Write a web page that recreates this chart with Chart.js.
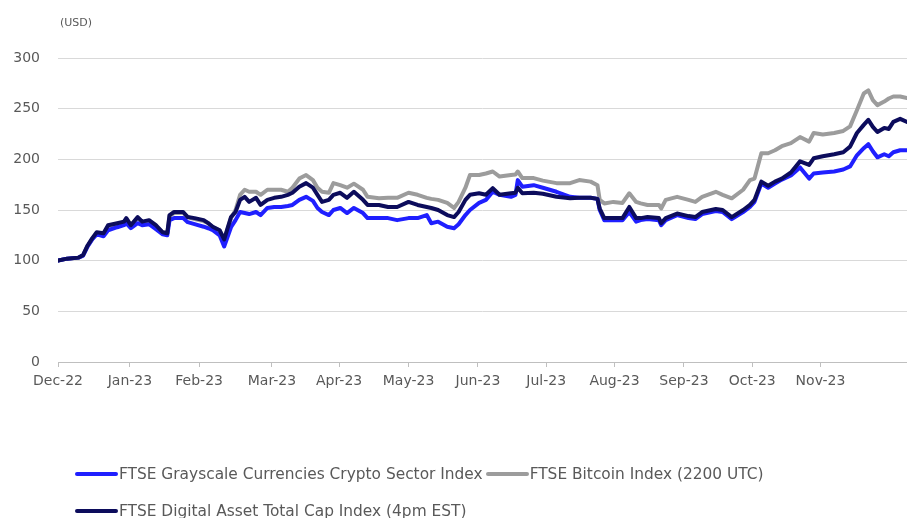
<!DOCTYPE html>
<html>
<head>
<meta charset="utf-8">
<script src="https://cdn.jsdelivr.net/npm/chart.js@4.4.1/dist/chart.umd.min.js"></script>
<style>
  body { margin: 0; background: #fff; }
  #wrap { position: relative; width: 907px; height: 518px; overflow: hidden; font-family: "DejaVu Sans", sans-serif; color: #595959; }
  #unit { position: absolute; left: 60px; top: 16px; font-size: 11px; }
  #legend { position: absolute; left: 75px; top: 455px; font-size: 15.4px; }
  .row { display: flex; align-items: center; height: 37px; white-space: nowrap; }
  .sw { display: inline-block; width: 43px; height: 4px; border-radius: 2px; margin-right: 1px; }
  .item { display: flex; align-items: center; margin-right: 3px; }
</style>
</head>
<body>
<div id="wrap">
  <canvas id="myIndexChart" width="907" height="518"></canvas>
  <div id="unit">(USD)</div>
  <div id="legend"></div>
</div>
<script>
// days since the Dec-22 tick
const days = [0, 4, 9, 11, 13, 15, 17, 20, 22, 26, 29, 30, 32, 35, 37, 40, 43, 46, 48, 49,
  51, 55, 57, 60, 64, 66, 68, 71, 73, 76, 78, 80, 82, 84, 87, 89, 92, 95, 98, 101,
  103, 106, 109, 112, 114, 116, 119, 121, 124, 127, 130, 134, 136, 141, 145, 149, 154, 158, 162, 164,
  167, 171, 174, 176, 179, 181, 185, 188, 191, 194, 199, 201, 202, 204, 209, 213, 219, 225, 229, 234,
  237, 238, 240, 244, 248, 251, 254, 256, 259, 264, 265, 267, 272, 277, 280, 283, 289, 292, 296, 301,
  304, 306, 309, 312, 315, 318, 322, 326, 330, 332, 336, 341, 345, 348, 351, 354, 356, 358, 360, 363,
  365, 367, 370, 373];

// FTSE Digital Asset Total Cap Index (4pm EST)
const totalCap = [100, 102, 103, 105.5, 115, 122, 128, 127, 135, 137, 138.5, 142, 135, 143, 138.5, 140, 135, 128, 127, 145,
  148, 148, 143, 142, 140, 137, 133.5, 130, 121, 143, 148, 160, 163, 158, 162, 155, 160, 162, 163, 165,
  167, 173, 176.5, 172, 165, 158, 160, 165, 167, 162, 168, 160, 155, 155, 153, 153, 158, 155, 153, 152,
  150, 145, 143, 148, 160, 165, 166.5, 165, 171.5, 165, 166.5, 167, 172, 166.5, 167, 166, 163, 161.5, 162, 162,
  161, 151.5, 142, 142, 142, 153, 142, 142, 143, 142, 137, 142, 146.5, 144, 143, 148, 151, 150, 143, 150,
  155, 160, 178, 174, 178, 181, 187, 198, 194.5, 201, 203, 205, 207, 212.5, 226, 234, 239, 232, 227, 231,
  230, 237, 240, 237];

// FTSE Grayscale Currencies Crypto Sector Index
const grayscale = [100, 102, 103, 105, 114, 121, 126, 124, 130, 133, 135, 137, 132, 137, 135, 136, 131, 126, 125, 140,
  142, 142, 138, 136, 133.5, 132, 130, 125, 114, 133, 140, 148, 147, 146, 148, 145, 152, 153, 153, 154,
  155, 160, 163, 159, 152, 148, 145, 150, 152, 147, 152, 147, 142, 142, 142, 140, 142, 142, 145, 137,
  138.5, 133.5, 132, 136, 145, 150, 157, 160, 168, 165, 163, 165, 179.5, 173, 174.5, 172, 168, 163, 162, 162,
  161, 150, 140, 140, 140, 148, 138.5, 140, 141, 140, 135, 140, 145, 142, 141, 146, 149, 148, 141, 148,
  153, 158, 176, 172, 176, 180, 184, 192, 181, 186, 187, 188, 190, 193, 204, 211, 215, 208, 202, 205,
  203, 207, 209, 209];

// FTSE Bitcoin Index (2200 UTC)
const bitcoin = [100, 102, 103, 105, 114, 121, 127, 126, 134, 136, 138, 141, 135, 142, 138, 139, 134, 128, 127, 144,
  147, 147, 143, 141, 139, 137, 133, 130, 120, 142, 150, 165, 170, 168, 168, 165, 170, 170, 170, 168,
  172, 181, 184.5, 179.5, 172, 168, 167, 176.5, 174.5, 172, 176, 170, 163, 161.5, 162, 162, 167, 165, 162, 161,
  160, 157, 152, 158, 172, 184.5, 184.5, 186, 188, 183, 184.5, 185, 188, 181.5, 181.5, 179, 176.5, 176.5, 179.5, 178,
  174.5, 160, 156.5, 158, 157, 166.5, 158, 156.5, 155, 155, 151.5, 160, 163, 160, 158, 163, 168, 165, 161.5, 170,
  179.5, 181, 206, 206, 209, 213, 216, 222, 217.5, 226, 224.5, 226, 228, 232.5, 248.5, 265, 268, 258.5, 253.5, 257,
  260, 262, 262, 260.5];

const monthTicks = [0, 31.6, 62, 94, 123.5, 154, 184.5, 214.5, 244.5, 275, 305, 335];
const monthLabels = ['Dec-22', 'Jan-23', 'Feb-23', 'Mar-23', 'Apr-23', 'May-23', 'Jun-23',
  'Jul-23', 'Aug-23', 'Sep-23', 'Oct-23', 'Nov-23'];

const seriesNames = ['FTSE Grayscale Currencies Crypto Sector Index', 'FTSE Bitcoin Index (2200 UTC)',
  'FTSE Digital Asset Total Cap Index (4pm EST)'];
const seriesColors = ['#1f1fff', '#9c9c9c', '#0c0c5c'];

function points(vals) {
  return days.map((d, i) => ({ x: d, y: vals[i] }));
}

const tickFont = { family: 'DejaVu Sans', size: 14 };

var ctx = document.getElementById('myIndexChart');
var myIndexChart = new Chart(ctx, {
  type: 'line',
  data: {
    datasets: [
      // navy drawn on top, gray underneath
      { label: seriesNames[2], data: points(totalCap), borderColor: seriesColors[2], order: 0 },
      { label: seriesNames[0], data: points(grayscale), borderColor: seriesColors[0], order: 1 },
      { label: seriesNames[1], data: points(bitcoin), borderColor: seriesColors[1], order: 2 }
    ]
  },
  options: {
    responsive: false,
    animation: false,
    devicePixelRatio: 1,
    layout: { padding: { top: 58, right: 0, bottom: 116, left: 0 } },
    elements: {
      line: { borderWidth: 4, tension: 0, borderCapStyle: 'round', borderJoinStyle: 'round' },
      point: { radius: 0 }
    },
    plugins: { legend: { display: false }, tooltip: { enabled: false } },
    scales: {
      x: {
        type: 'linear',
        min: 0,
        max: 373,
        afterBuildTicks: (scale) => { scale.ticks = monthTicks.map(v => ({ value: v })); },
        afterFit: (scale) => { scale.height = 40; },
        grid: { drawOnChartArea: false, drawTicks: true, tickLength: 5, color: '#bfbfbf' },
        border: { display: true, color: '#bfbfbf' },
        ticks: {
          autoSkip: false,
          maxRotation: 0,
          padding: 6,
          color: '#595959',
          font: tickFont,
          callback: (value, index) => monthLabels[index]
        }
      },
      y: {
        min: 0,
        max: 300,
        afterFit: (scale) => { scale.width = 58; },
        grid: { color: '#d9d9d9', drawTicks: false },
        border: { display: false },
        ticks: { stepSize: 50, padding: 18, color: '#595959', font: tickFont }
      }
    }
  }
});

// legend in the same layout as the picture: two entries, then one
var legend = document.getElementById('legend');
[[0, 1], [2]].forEach(function (row) {
  var r = document.createElement('div');
  r.className = 'row';
  row.forEach(function (k) {
    var it = document.createElement('span');
    it.className = 'item';
    var sw = document.createElement('span');
    sw.className = 'sw';
    sw.style.background = seriesColors[k];
    it.appendChild(sw);
    it.appendChild(document.createTextNode(seriesNames[k]));
    r.appendChild(it);
  });
  legend.appendChild(r);
});
</script>
</body>
</html>
